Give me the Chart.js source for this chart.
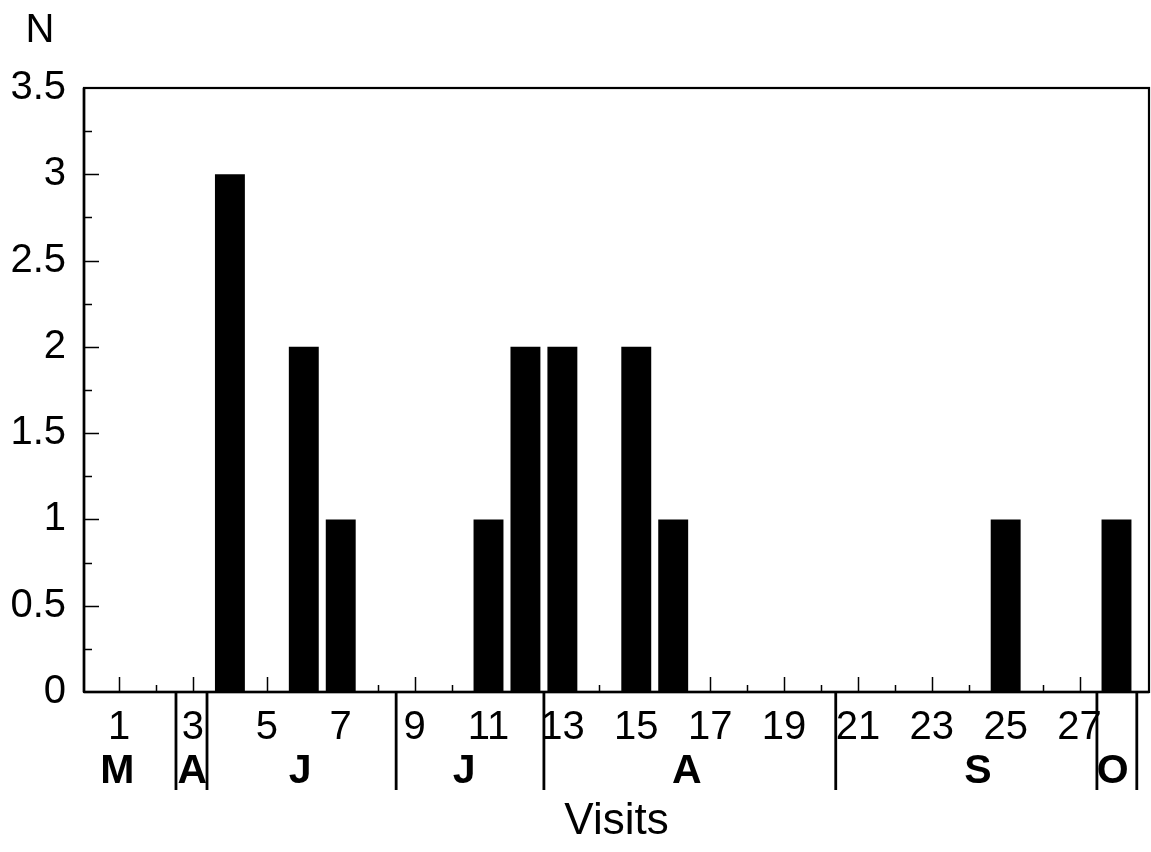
<!DOCTYPE html>
<html>
<head>
<meta charset="utf-8">
<title>Visits</title>
<script src="https://cdn.jsdelivr.net/npm/chart.js@4.4.1/dist/chart.umd.min.js"></script>
<style>
  html, body { margin: 0; padding: 0; background: #fff; }
  #wrap { width: 1151px; height: 852px; position: relative; }
</style>
</head>
<body>
<div id="wrap"><canvas id="visitChart"></canvas></div>
<script>
// visit number -> N
const visits = [1, 2, 3, 4, 5, 6, 7, 8, 9, 10, 11, 12, 13, 14,
                15, 16, 17, 18, 19, 20, 21, 22, 23, 24, 25, 26, 27, 28];
const counts = [0, 0, 0, 3, 0, 2, 1, 0, 0, 0, 1, 2, 2, 0,
                2, 1, 0, 0, 0, 0, 0, 0, 0, 0, 1, 0, 0, 1];

// labelled visits on the x axis
const visitTicks = [1, 3, 5, 7, 9, 11, 13, 15, 17, 19, 21, 23, 25, 27];

// months under the axis, with the visit positions where each one starts/ends
const months = ['M', 'A', 'J', 'J', 'A', 'S', 'O'];
const monthCentres = [0.95, 2.98, 5.9, 10.34, 16.37, 24.25, 27.9];
const monthBreaks = [2.54, 3.38, 8.5, 12.5, 20.4, 27.47, 28.55];

const FONT = '"Liberation Sans", Arial, Helvetica, sans-serif';

// inward ticks, frame, month strip and the "N" label
const axisMarks = {
  id: 'axisMarks',
  beforeDatasetsDraw(chart) {
    const { ctx, chartArea: a, scales: { x, y } } = chart;
    ctx.save();
    ctx.strokeStyle = '#000';
    ctx.lineWidth = 1.5;
    ctx.beginPath();
    visits.forEach(v => {
      const px = Math.round(x.getPixelForValue(v)) + 0.5;
      const len = v % 2 ? 15 : 7;
      ctx.moveTo(px, a.bottom);
      ctx.lineTo(px, a.bottom - len);
    });
    for (let i = 1; i < 14; i++) {
      const py = Math.round(y.getPixelForValue(i * 0.25)) + 0.5;
      const len = i % 2 ? 8 : 15;
      ctx.moveTo(a.left, py);
      ctx.lineTo(a.left + len, py);
    }
    ctx.stroke();
    ctx.restore();
  },
  afterDraw(chart) {
    const { ctx, chartArea: a, scales: { x } } = chart;
    ctx.save();
    ctx.strokeStyle = '#000';

    // box round the plot
    ctx.lineWidth = 2.2;
    ctx.strokeRect(a.left, a.top, a.right - a.left, a.bottom - a.top);
    ctx.lineWidth = 2.6;
    ctx.beginPath();
    ctx.moveTo(a.left, a.bottom);
    ctx.lineTo(a.right, a.bottom);
    ctx.moveTo(a.left, a.top);
    ctx.lineTo(a.left, a.bottom);
    ctx.stroke();

    // month separators
    ctx.lineWidth = 2.8;
    ctx.beginPath();
    monthBreaks.forEach(v => {
      const px = x.getPixelForValue(v);
      ctx.moveTo(px, a.bottom);
      ctx.lineTo(px, a.bottom + 98);
    });
    ctx.stroke();

    ctx.fillStyle = '#000';
    ctx.textAlign = 'center';
    ctx.textBaseline = 'alphabetic';
    ctx.font = 'bold 41px ' + FONT;
    months.forEach((m, i) => {
      ctx.fillText(m, x.getPixelForValue(monthCentres[i]), a.bottom + 91);
    });

    ctx.font = '40px ' + FONT;
    ctx.fillText('N', a.left - 44, a.top - 46);
    ctx.restore();
  }
};

new Chart(document.getElementById('visitChart'), {
  type: 'bar',
  data: {
    datasets: [{
      label: 'N',
      data: visits.map((v, i) => ({ x: v, y: counts[i] })),
      backgroundColor: '#000',
      borderWidth: 0,
      barPercentage: 0.81,
      categoryPercentage: 1
    }]
  },
  options: {
    responsive: true,
    maintainAspectRatio: false,
    animation: false,
    layout: { padding: { top: 88, right: 2, left: 0, bottom: 0 } },
    plugins: { legend: { display: false }, tooltip: { enabled: false } },
    scales: {
      x: {
        type: 'linear',
        offset: false,
        min: 0.05,
        max: 28.88,
        afterFit: s => { s.height = 160; },
        afterBuildTicks: s => { s.ticks = visitTicks.map(v => ({ value: v })); },
        grid: { display: false, drawTicks: false },
        border: { display: false },
        ticks: {
          color: '#000',
          padding: 12,
          maxRotation: 0,
          autoSkip: false,
          font: { family: FONT, size: 40 }
        },
        title: {
          display: true,
          text: 'Visits',
          color: '#000',
          font: { family: FONT, size: 44, lineHeight: 1 },
          padding: { top: 0, bottom: 8 }
        }
      },
      y: {
        min: 0,
        max: 3.5,
        afterFit: s => { s.width = 84; },
        grid: { display: false, drawTicks: false },
        border: { display: false },
        ticks: {
          stepSize: 0.5,
          color: '#000',
          padding: 18,
          font: { family: FONT, size: 40 },
          callback: v => String(v)
        }
      }
    }
  },
  plugins: [axisMarks]
});
</script>
</body>
</html>
